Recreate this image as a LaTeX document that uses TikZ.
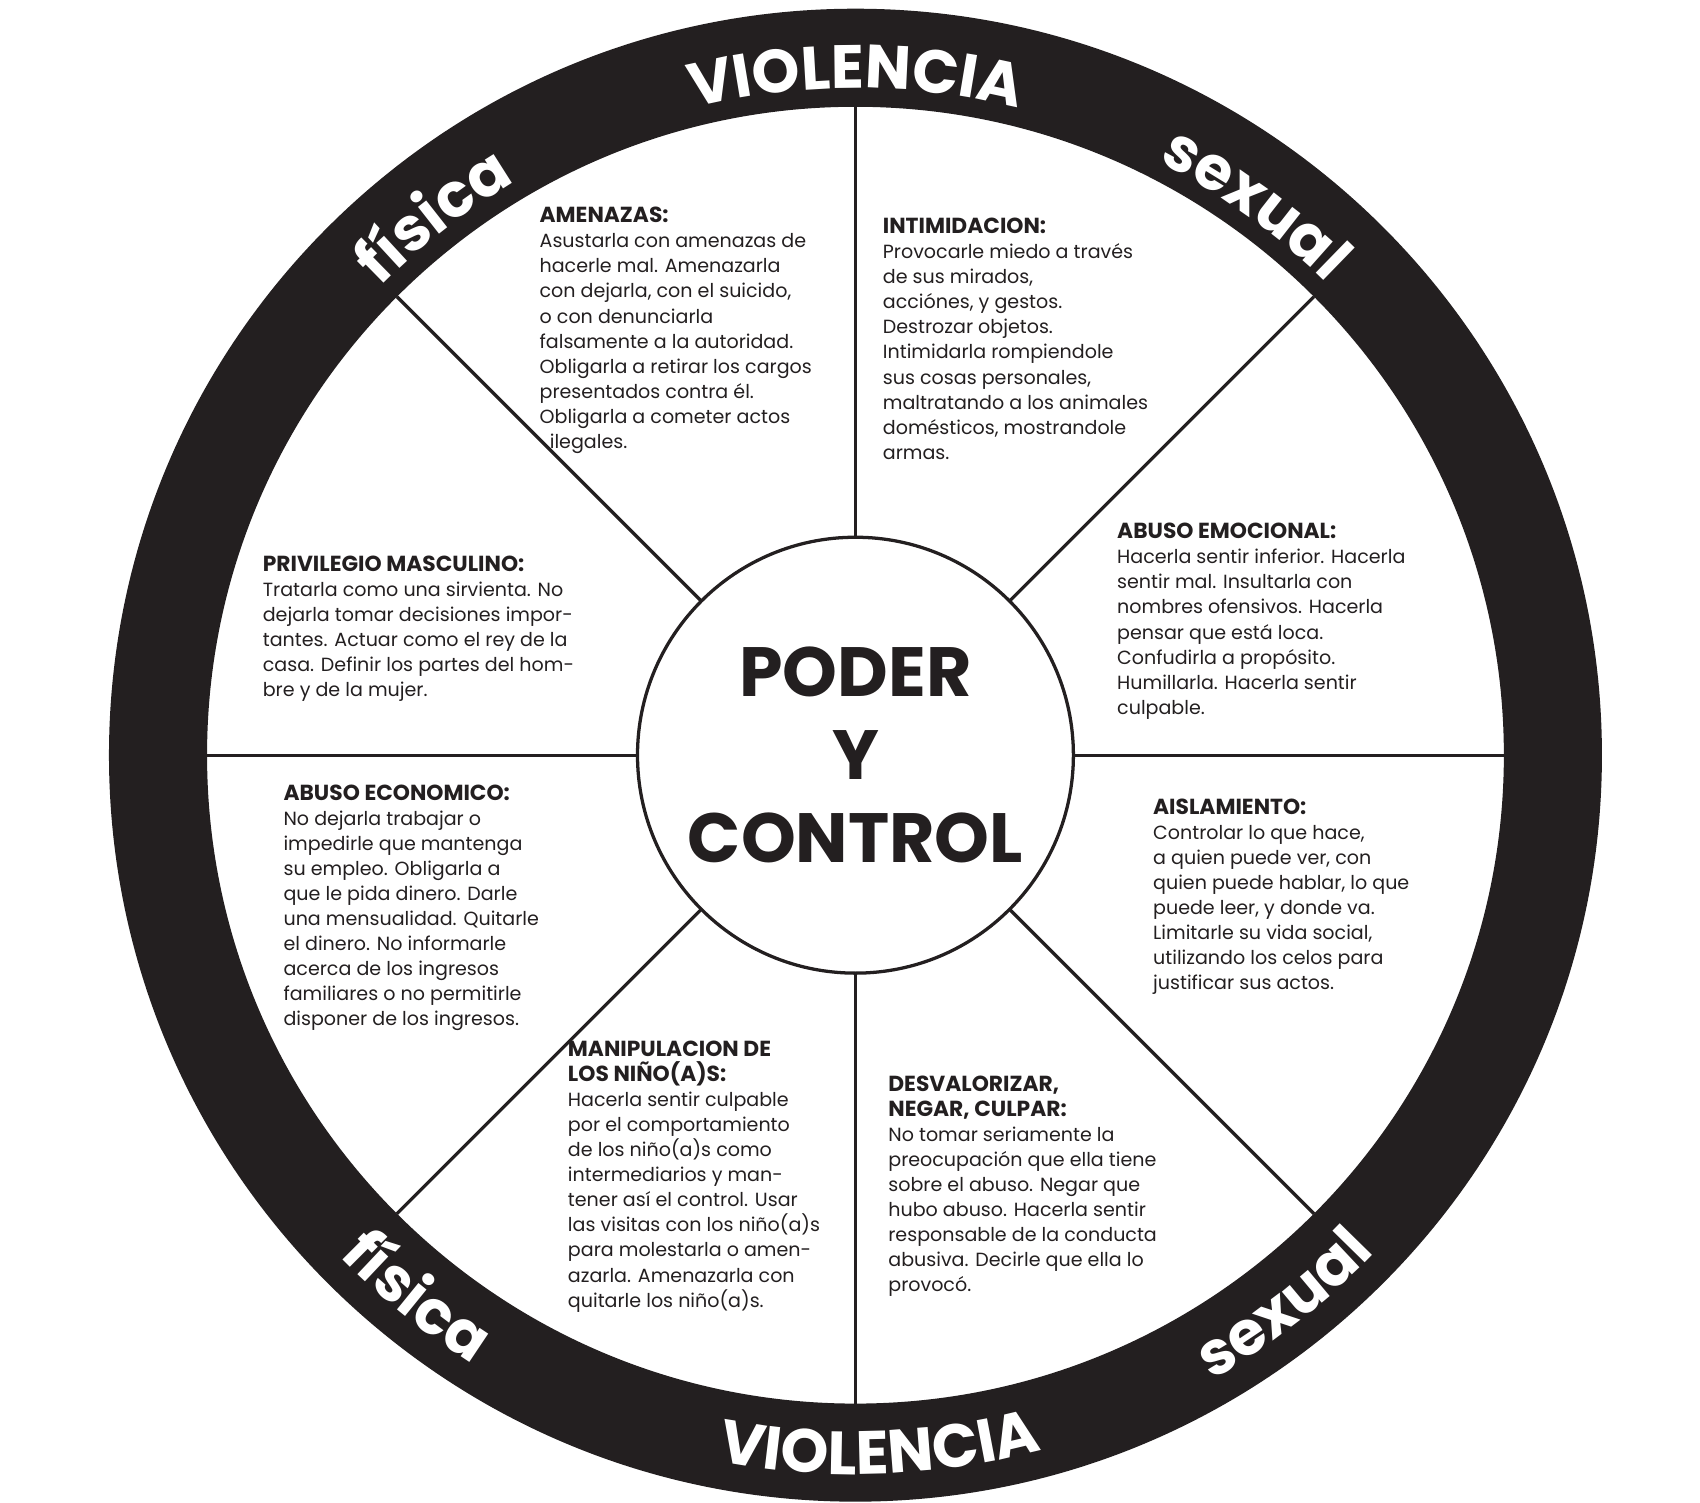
\documentclass[tikz,border=0pt]{standalone}
\usepackage{fontspec}
\setmainfont{Poppins}
\usetikzlibrary{decorations.text}
\definecolor{tinta}{HTML}{231F20}
\tikzset{
  bloque/.style={anchor=north west, align=left, inner sep=0pt, text=tinta,
    font=\fontsize{17.5}{23}\selectfont},
  rueda/.style={decorate, decoration={text along path, text align=center,
    text color=white, text={#1}}}
}
\newcommand{\tit}[1]{{\fontsize{20}{23}\selectfont\bfseries #1}}
\begin{document}
\begin{tikzpicture}[x=1pt,y=1pt]
\useasboundingbox (0,0) rectangle (1560,1379);
\coordinate (C) at (785,686);

% anillo negro
\fill[tinta,even odd rule] (C) circle[radius=685] (C) circle[radius=595];
% rayos
\foreach \ang in {0,45,...,315}
  \draw[tinta,line width=3pt] (C) ++(\ang:200) -- ++(\ang:395);
\draw[tinta,line width=3pt] (C) circle[radius=200];

% textos del anillo
\path[rueda={|\fontsize{56}{56}\selectfont\bfseries|VIOLENCIA}]
  (C) ++(122:612) arc[start angle=122, end angle=58, radius=612];
\path[rueda={|\fontsize{56}{56}\selectfont\bfseries|f{í}sica}]
  (C) ++(150:612) arc[start angle=150, end angle=106, radius=612];
\path[rueda={|\fontsize{56}{56}\selectfont\bfseries|sexual}]
  (C) ++(76:612) arc[start angle=76, end angle=32, radius=612];
\path[rueda={|\fontsize{56}{56}\selectfont\bfseries|f{í}sica}]
  (C) ++(209:660) arc[start angle=209, end angle=253, radius=660];
\path[rueda={|\fontsize{56}{56}\selectfont\bfseries|sexual}]
  (C) ++(286:660) arc[start angle=286, end angle=330, radius=660];
\path[rueda={|\fontsize{56}{56}\selectfont\bfseries|VIOLENCIA}]
  (C) ++(240:660) arc[start angle=240, end angle=304, radius=660];

% centro
\node[align=center, text=tinta, font=\fontsize{64}{76}\selectfont\bfseries] (centro) at (C)
  {PODER\\Y\\CONTROL};

% sectores
\node[bloque] (amenazas) at (495,1189) {\tit{AMENAZAS:}\\Asustarla con amenazas de\\hacerle mal.  Amenazarla\\con dejarla, con el suicido,\\o con denunciarla\\falsamente a la autoridad.\\Obligarla a retirar los cargos\\presentados contra él.\\Obligarla a cometer actos\\\ \ ilegales.};
\node[bloque] (intimidacion) at (810,1179) {\tit{INTIMIDACION:}\\Provocarle miedo a través\\de sus mirados,\\acciónes, y gestos.\\Destrozar objetos.\\Intimidarla rompiendole\\sus cosas personales,\\maltratando a los animales\\domésticos, mostrandole\\armas.};
\node[bloque] (emocional) at (1025,899) {\tit{ABUSO EMOCIONAL:}\\Hacerla sentir inferior.  Hacerla\\sentir mal.  Insultarla con\\nombres ofensivos.  Hacerla\\pensar que está loca.\\Confudirla a propósito.\\Humillarla.  Hacerla sentir\\culpable.};
\node[bloque] (aislamiento) at (1058,646) {\tit{AISLAMIENTO:}\\Controlar lo que hace,\\a quien puede ver, con\\quien puede hablar, lo que\\puede leer, y donde va.\\Limitarle su vida social,\\utilizando los celos para\\justificar sus actos.};
\node[bloque] (desvalorizar) at (815,392) {\tit{DESVALORIZAR,}\\\tit{NEGAR, CULPAR:}\\No tomar seriamente la\\preocupación que ella tiene\\sobre el abuso.  Negar que\\hubo abuso.  Hacerla sentir\\responsable de la conducta\\abusiva.  Decirle que ella lo\\provocó.};
\node[bloque] (ninos) at (521,424) {\tit{MANIPULACION DE}\\\tit{LOS NIÑO(A)S:}\\Hacerla sentir culpable\\por el comportamiento\\de los niño(a)s como\\intermediarios y man-\\tener así el control.  Usar\\las visitas con los niño(a)s\\para molestarla o amen-\\azarla.  Amenazarla con\\quitarle los niño(a)s.};
\node[bloque] (economico) at (260,659) {\tit{ABUSO ECONOMICO:}\\No dejarla trabajar o\\impedirle que mantenga\\su empleo.  Obligarla a\\que le pida dinero.  Darle\\una mensualidad.  Quitarle\\el dinero.  No informarle\\acerca de los ingresos\\familiares o no permitirle\\disponer de los ingresos.};
\node[bloque] (privilegio) at (241,869) {\tit{PRIVILEGIO MASCULINO:}\\Tratarla como una sirvienta.  No\\dejarla tomar decisiones impor-\\tantes.  Actuar como el rey de la\\casa.  Definir los partes del hom-\\bre y de la mujer.};
\end{tikzpicture}
\end{document}
